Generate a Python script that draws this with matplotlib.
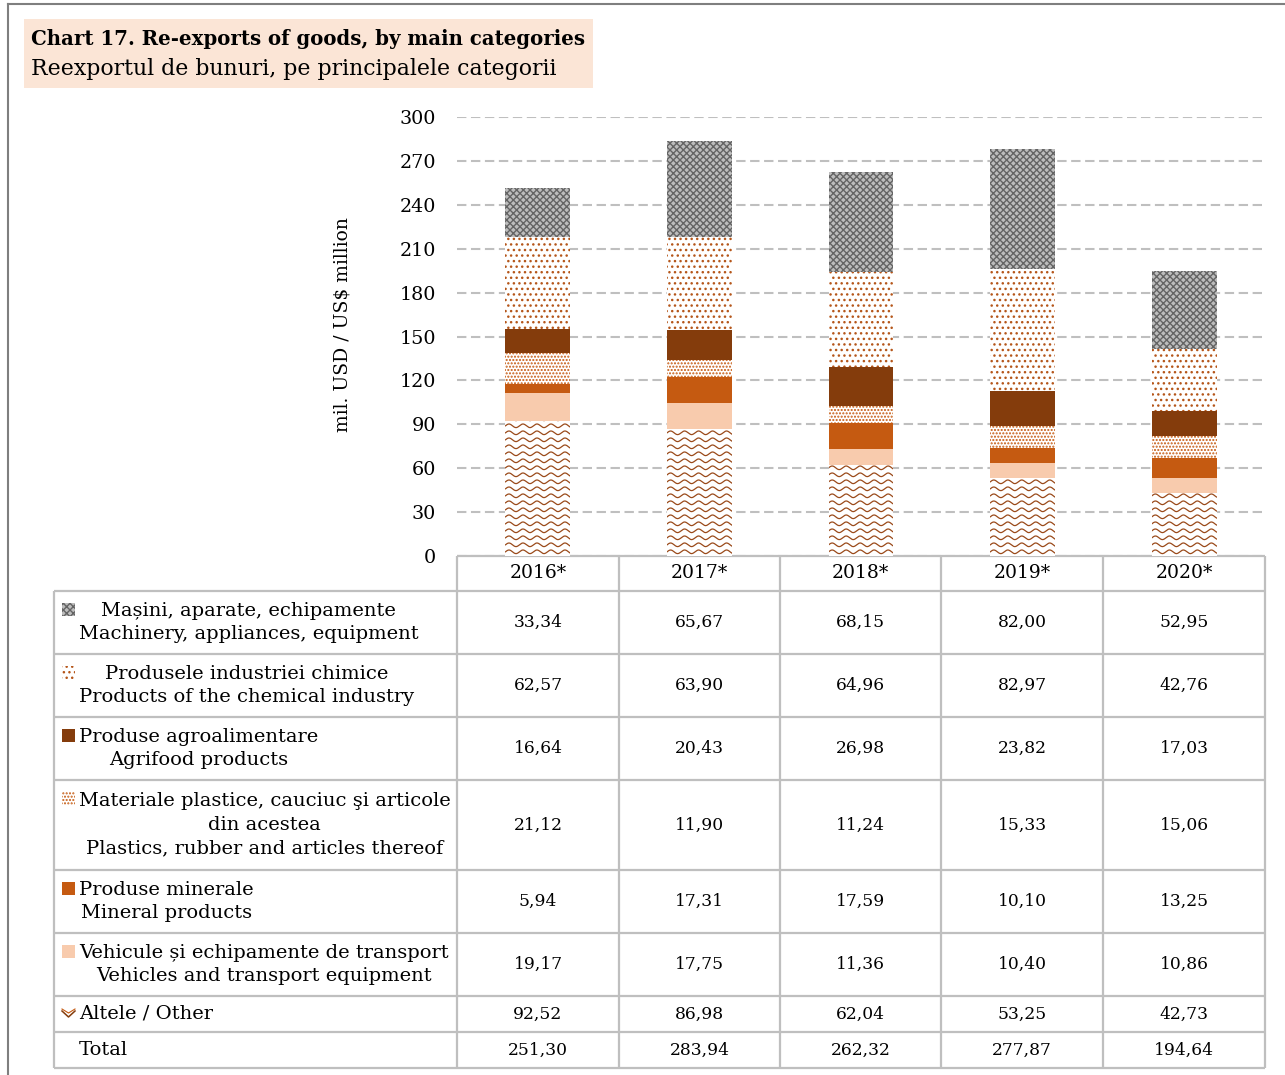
import numpy as np
import matplotlib
matplotlib.use("Agg")
import matplotlib.pyplot as plt
from matplotlib.patches import Rectangle

plt.rcParams['font.family'] = ['DejaVu Serif']
plt.rcParams['hatch.linewidth'] = 1.0

# data (mil. USD)
years = ['2016*', '2017*', '2018*', '2019*', '2020*']
machinery = [33.34, 65.67, 68.15, 82.00, 52.95]
chemical = [62.57, 63.90, 64.96, 82.97, 42.76]
agrifood = [16.64, 20.43, 26.98, 23.82, 17.03]
plastics = [21.12, 11.90, 11.24, 15.33, 15.06]
mineral = [5.94, 17.31, 17.59, 10.10, 13.25]
vehicles = [19.17, 17.75, 11.36, 10.40, 10.86]
other = [92.52, 86.98, 62.04, 53.25, 42.73]
total = [251.30, 283.94, 262.32, 277.87, 194.64]

row_labels = [
    "Mașini, aparate, echipamente\nMachinery, appliances, equipment",
    "Produsele industriei chimice\nProducts of the chemical industry",
    "Produse agroalimentare\nAgrifood products",
    "Materiale plastice, cauciuc şi articole\ndin acestea\nPlastics, rubber and articles thereof",
    "Produse minerale\nMineral products",
    "Vehicule și echipamente de transport\nVehicles and transport equipment",
    "Altele / Other",
    "Total",
]
table_rows = [machinery, chemical, agrifood, plastics, mineral, vehicles, other, total]

BROWN = '#843C0C'
ORANGE = '#C55A11'
PEACH = '#F8CBAD'
GRID = '#BFBFBF'

# fill styles, keyed like the table rows
styles = {
    'machinery': dict(facecolor='#BDBDBD', edgecolor='#646464', hatch='xxxxx'),
    'chemical': dict(facecolor='white', edgecolor='#B5561A', hatch='...'),
    'agrifood': dict(facecolor=BROWN, edgecolor=BROWN, hatch=None),
    'plastics': dict(facecolor='white', edgecolor=ORANGE, hatch='.....'),
    'mineral': dict(facecolor=ORANGE, edgecolor=ORANGE, hatch=None),
    'vehicles': dict(facecolor=PEACH, edgecolor=PEACH, hatch=None),
    'other': dict(facecolor='white', edgecolor='white', hatch=None),
}
row_keys = ['machinery', 'chemical', 'agrifood', 'plastics', 'mineral', 'vehicles', 'other', None]

W, H = 1285, 1075
fig = plt.figure(figsize=(W / 100, H / 100), dpi=100)

# overlay in pixel coordinates for frame, title box and table
ov = fig.add_axes([0, 0, 1, 1])
ov.set_xlim(0, W)
ov.set_ylim(H, 0)
ov.axis('off')

ov.plot([8, 8], [4, H], color='#7F7F7F', lw=1.5)
ov.plot([8, W], [4, 4], color='#7F7F7F', lw=1.5)

ov.add_patch(Rectangle((24, 19), 569, 69, facecolor='#FBE5D6', edgecolor='none'))
ov.text(31, 39, "Chart 17. Re-exports of goods, by main categories", fontsize=14.2,
        fontweight='bold', va='center', ha='left')
ov.text(31, 69, "Reexportul de bunuri, pe principalele categorii", fontsize=15.8,
        va='center', ha='left')

# bar chart
x0_px, x1_px, y0_px, y1_px = 457, 1265, 556, 117
ax = fig.add_axes([x0_px / W, 1 - y0_px / H, (x1_px - x0_px) / W, (y0_px - y1_px) / H])
ax.patch.set_alpha(0)
ax.set_xlim(-0.5, len(years) - 0.5)
ax.set_ylim(0, 300)
ax.set_yticks(np.arange(0, 301, 30))
ax.set_xticks([])
for s in ax.spines.values():
    s.set_visible(False)
ax.tick_params(axis='y', length=0, pad=15, labelsize=13.8)
ax.yaxis.grid(True, color=GRID, lw=1.5, dashes=(4.5, 2.2))
ax.set_axisbelow(True)
ax.set_ylabel("mil. USD / US$ million", fontsize=13.5)
ax.yaxis.set_label_coords((352 - x0_px) / (x1_px - x0_px), (y0_px - 325) / (y0_px - y1_px))

xpos = np.arange(len(years))
bw = 0.4
series = {'other': other, 'vehicles': vehicles, 'mineral': mineral, 'plastics': plastics,
          'agrifood': agrifood, 'chemical': chemical, 'machinery': machinery}
bottom = np.zeros(len(years))
bar_sets = {}
for key, vals in series.items():
    st = styles[key]
    bars = ax.bar(xpos, vals, bw, bottom=bottom, facecolor=st['facecolor'],
                  edgecolor=st['edgecolor'], hatch=st['hatch'], linewidth=0, zorder=2)
    bar_sets[key] = bars
    bottom += np.array(vals)

# wavy fill for "Other"
px_x = (x1_px - x0_px) / len(years)   # px per x unit
px_y = (y0_px - y1_px) / 300.0        # px per y unit
period = 14 / px_x
amp = 1.8 / px_y
step = 7.0 / px_y
for rect in bar_sets['other']:
    bx, bwid, bh = rect.get_x(), rect.get_width(), rect.get_height()
    xs = np.linspace(bx, bx + bwid, 200)
    for base in np.arange(step * 0.6, bh + step, step):
        ln, = ax.plot(xs, base + amp * np.sin(2 * np.pi * (xs - bx) / period),
                      color='#9A4A1A', lw=0.9, zorder=3)
        ln.set_clip_path(rect)

# table
col_edges = [457, 619, 780, 941, 1103, 1265]
row_edges = [591, 654, 717, 780, 870, 933, 996, 1032, 1068]
lkw = dict(color=GRID, lw=1.6, solid_capstyle='butt')
ov.plot([457, 1265], [556, 556], **lkw)
for y in row_edges:
    ov.plot([54, 1265], [y, y], **lkw)
ov.plot([54, 54], [591, 1068], **lkw)
for x in col_edges:
    ov.plot([x, x], [556, 1068], **lkw)

for j, yr in enumerate(years):
    cx = (col_edges[j] + col_edges[j + 1]) / 2
    ov.text(cx, 573, yr, ha='center', va='center', fontsize=13.5)

line_h = 27
for i, (lab, vals, key) in enumerate(zip(row_labels, table_rows, row_keys)):
    cy = (row_edges[i] + row_edges[i + 1]) / 2
    ov.text(79, cy, lab, ha='left', va='center', multialignment='center',
            fontsize=14.0, linespacing=1.41)
    for j, v in enumerate(vals):
        cx = (col_edges[j] + col_edges[j + 1]) / 2
        ov.text(cx, cy, f"{v:.2f}".replace('.', ','), ha='center', va='center', fontsize=12.3)
    if key is None:
        continue
    n = lab.count('\n') + 1
    iy = cy - (n - 1) / 2 * line_h
    st = styles[key]
    if key == 'other':
        t = np.linspace(-1, 1, 41)
        ov.plot(68.5 + 6.5 * t, iy + 3 - 6 * np.abs(t), color=BROWN, lw=1.1)
        ov.plot(68.5 + 6.5 * t, iy - 1 - 4 * np.abs(t), color=ORANGE, lw=0.8)
    else:
        ov.add_patch(Rectangle((62, iy - 6.5), 13, 13, facecolor=st['facecolor'],
                               edgecolor=st['edgecolor'], hatch=st['hatch'], lw=0))

fig.savefig('out.png', dpi=100)
